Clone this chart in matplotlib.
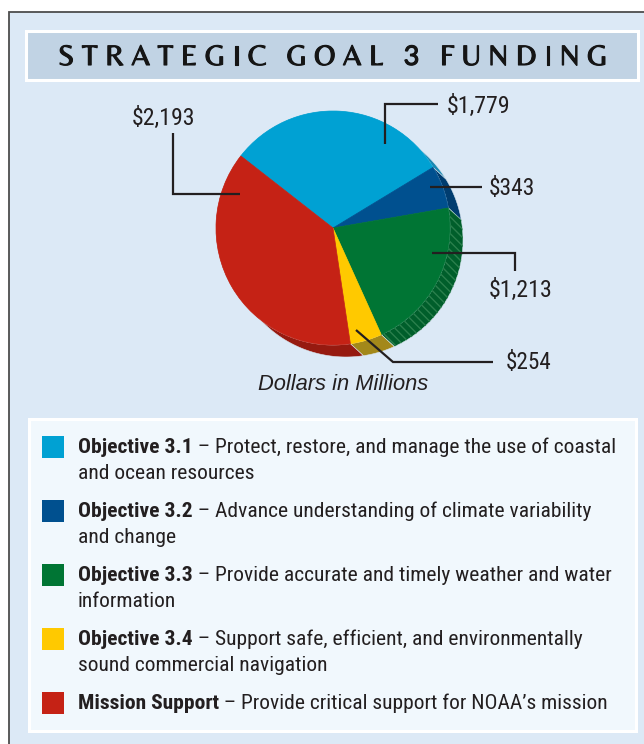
import matplotlib
matplotlib.use('Agg')
import matplotlib.pyplot as plt
import matplotlib.patheffects as pe
from matplotlib.patches import Rectangle, Polygon
import numpy as np

W, H = 644, 744

objectives = ['Objective 3.1', 'Objective 3.2', 'Objective 3.3', 'Objective 3.4', 'Mission Support']
funding = [1779, 343, 1213, 254, 2193]
descriptions = [
    ['Protect, restore, and manage the use of coastal', 'and ocean resources'],
    ['Advance understanding of climate variability', 'and change'],
    ['Provide accurate and timely weather and water', 'information'],
    ['Support safe, efficient, and environmentally', 'sound commercial navigation'],
    ['Provide critical support for NOAA\u2019s mission'],
]
title = 'STRATEGIC GOAL 3 FUNDING'
unit_note = 'Dollars in Millions'

TOP_COLORS = ['#00a1d3', '#00508f', '#007534', '#ffc900', '#c52215']
SIDE_COLORS = ['#1a88b2', '#003d70', '#005e2b', '#a3881a', '#961a10']
PANEL = '#dce9f6'
TITLE_BG = '#c1d3e4'
LEGEND_BG = '#f1f8fd'
INK = '#231f20'

NARROW = ['Roboto Condensed', 'Roboto', 'DejaVu Sans']
SANS = ['Liberation Sans', 'DejaVu Sans']
TITLE_FONT = ['Belleza', 'Lato', 'DejaVu Sans']
DIGIT_FONT = ['Lato', 'DejaVu Sans']   # Belleza has old-style figures

# pie geometry (pixel coords, y measured from the top)
PIE_CX, PIE_CY, PIE_R = 333, 228, 117
DEPTH = (13, 12)

# leader lines: polyline points, label anchor (left x, baseline y)
LEADERS = [
    ([(385, 144), (385, 104), (438, 104)], (447, 113)),
    ([(430, 187), (482, 187)], (489, 195)),
    ([(432, 253), (515, 253), (515, 271)], (489, 297)),
    ([(356, 330), (393, 362), (493, 362)], (506, 369)),
    ([(240, 194), (173, 194), (173, 133)], (132, 125)),
]
LABEL_WIDTHS = [64, 47, 64, 46, 64]


def Y(y):
    return H - y


fig = plt.figure(figsize=(W / 100, H / 100), dpi=100)
fig.patch.set_facecolor('white')
ax = fig.add_axes([0, 0, 1, 1])
renderer = fig.canvas.get_renderer()


def fit(txt, width):
    w = txt.get_window_extent(renderer).width
    txt.set_fontsize(txt.get_fontsize() * width / w)
    return txt


# background panel and boxes
ax.add_patch(Rectangle((9, Y(760)), 660, 748, facecolor=PANEL,
                       edgecolor='#4d4d4d', lw=1.3, zorder=0))
ax.add_patch(Rectangle((26, Y(80)), 612, 49, facecolor=TITLE_BG,
                       edgecolor='white', lw=2.2, zorder=1))
ax.add_patch(Rectangle((29, Y(731)), 607, 312, facecolor=LEGEND_BG,
                       edgecolor='white', lw=2.2, zorder=1))

# title with wide letter spacing
fs = 21
thick = [pe.withStroke(linewidth=0.8, foreground='#151515')]
chars = []
for ch in title:
    fam = DIGIT_FONT if ch.isdigit() else TITLE_FONT
    size = fs * 0.93 if ch.isdigit() else fs
    chars.append(ax.text(0, Y(65), ch, fontsize=size, family=fam,
                         color='#151515', va='baseline', ha='left', zorder=3,
                         path_effects=thick))
widths = [c.get_window_extent(renderer).width if ch != ' ' else 0 for c, ch in zip(chars, title)]
x0, x1 = 58, 607
n_gaps = len(title) - 1
space_w = 5
track = (x1 - x0 - sum(widths) - space_w * title.count(' ')) / n_gaps
x = x0
for c, ch, w in zip(chars, title, widths):
    c.set_x(x)
    x += (w if ch != ' ' else space_w) + track

# pie: top face plus extruded side
wedges, _ = ax.pie(funding, colors=TOP_COLORS, startangle=142, counterclock=False,
                   center=(PIE_CX, Y(PIE_CY)), radius=PIE_R,
                   wedgeprops=dict(linewidth=0.5, zorder=3))
for w, c in zip(wedges, TOP_COLORS):
    w.set_edgecolor(c)

dx, dy = DEPTH[0], -DEPTH[1]
for i, (w, sc) in enumerate(zip(wedges, SIDE_COLORS)):
    th = np.radians(np.linspace(w.theta1, w.theta2, 120))
    arc = np.column_stack([PIE_CX + PIE_R * np.cos(th), Y(PIE_CY) + PIE_R * np.sin(th)])
    band = np.vstack([arc, (arc + [dx, dy])[::-1]])
    ax.add_patch(Polygon(band, closed=True, facecolor=sc, edgecolor='#d9e6ee',
                         lw=0.4, zorder=2))
    if i == 2:
        ax.add_patch(Polygon(band, closed=True, facecolor='none', edgecolor='#2a7f4c',
                             lw=0, hatch='\\\\\\\\', zorder=2.1))

# leader lines and value labels
for (pts, (lx, ly)), val, lw_ in zip(LEADERS, funding, LABEL_WIDTHS):
    xs, ys = zip(*pts)
    ax.plot(xs, [Y(v) for v in ys], color=INK, lw=1.6, solid_capstyle='butt',
            solid_joinstyle='miter', zorder=4)
    t = ax.text(lx, Y(ly), f'${val:,}', fontsize=16, family=NARROW, color=INK,
                va='baseline', ha='left', zorder=4)
    fit(t, lw_)

t = ax.text(343, Y(390), unit_note, fontsize=13, family=SANS, style='italic',
            color=INK, ha='center', va='baseline', zorder=4)
fit(t, 170)

# legend
base_y = [453, 517, 581, 645, 709]
tb = ax.text(78, 0, objectives[0], fontsize=10, family=NARROW, weight='bold')
tr = ax.text(78, 0, ' \u2013 ' + descriptions[0][0], fontsize=10, family=NARROW)
scale = 535 / (tb.get_window_extent(renderer).width + tr.get_window_extent(renderer).width)
leg_fs = 10 * scale
tb.remove()
tr.remove()

for name, desc, col, by in zip(objectives, descriptions, TOP_COLORS, base_y):
    ax.add_patch(Rectangle((42, Y(by + 5)), 22, 22, facecolor=col, edgecolor='none', zorder=3))
    b = ax.text(78, Y(by), name, fontsize=leg_fs, family=NARROW, weight='bold',
                color=INK, va='baseline', ha='left', zorder=4)
    bw = b.get_window_extent(renderer).width
    ax.text(78 + bw, Y(by), ' \u2013 ' + desc[0], fontsize=leg_fs, family=NARROW,
            color=INK, va='baseline', ha='left', zorder=4)
    for k, line in enumerate(desc[1:], start=1):
        ax.text(78, Y(by + 26 * k), line, fontsize=leg_fs, family=NARROW,
                color=INK, va='baseline', ha='left', zorder=4)

ax.set_xlim(0, W)
ax.set_ylim(0, H)
ax.set_aspect('auto')
ax.axis('off')

fig.savefig('out.png', dpi=100, facecolor='white')
